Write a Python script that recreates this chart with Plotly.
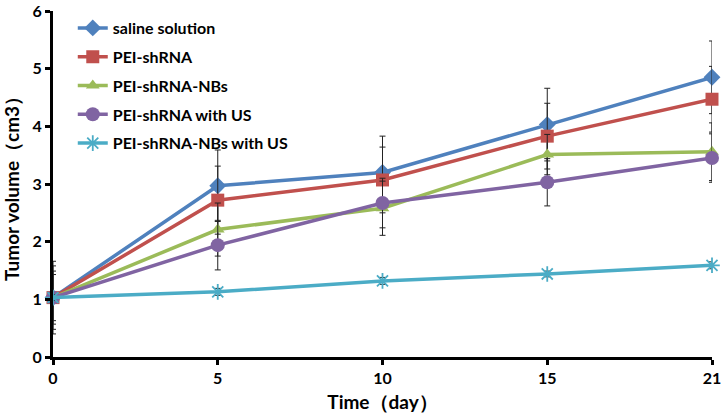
import plotly.graph_objects as go

days = ["0", "5", "10", "15", "21"]
series_names = ["saline solution", "PEI-shRNA", "PEI-shRNA-NBs", "PEI-shRNA with US", "PEI-shRNA-NBs with US"]
saline = [1.03, 2.97, 3.20, 4.03, 4.85]
saline_err = [0.63, 0.62, 0.63, 0.63, 0.63]
pei = [1.03, 2.72, 3.07, 3.83, 4.47]
pei_err = [0.55, 0.59, 0.57, 0.57, 0.57]
pei_nbs = [1.03, 2.21, 2.58, 3.51, 3.56]
pei_nbs_err = [0.46, 0.46, 0.47, 0.35, 0.50]
pei_us = [1.03, 1.94, 2.67, 3.03, 3.45]
pei_us_err = [0.40, 0.43, 0.43, 0.41, 0.42]
pei_nbs_us = [1.03, 1.13, 1.32, 1.44, 1.59]
pei_nbs_us_err = [0.05, 0.06, 0.06, 0.05, 0.06]

colors = ["#4F81BD", "#C0504D", "#9BBB59", "#8064A2", "#4BACC6"]
symbols = ["diamond", "square", "triangle-up", "circle", "asterisk-open"]
sizes = [13, 13, 12, 14, 13]
values = [saline, pei, pei_nbs, pei_us, pei_nbs_us]
errors = [saline_err, pei_err, pei_nbs_err, pei_us_err, pei_nbs_us_err]

xpos = list(range(len(days)))
FAM = "Lato, 'Open Sans', sans-serif"

fig = go.Figure()
for i in range(5):
    marker = dict(symbol=symbols[i], size=sizes[i], color=colors[i])
    if symbols[i] == "asterisk-open":
        marker["line"] = dict(color=colors[i], width=1.8)
    fig.add_trace(go.Scatter(
        x=xpos, y=values[i], name=series_names[i], mode="lines+markers",
        line=dict(color=colors[i], width=3.5),
        marker=marker,
        error_y=dict(type="data", array=errors[i], visible=True, color="#222222", thickness=1, width=3),
        cliponaxis=False,
        legendgroup="g%d" % i,
    ))

axis_font = dict(family=FAM, size=16, color="black", weight="bold")
title_font = dict(family=FAM, size=19, color="black", weight="bold")

fig.update_layout(
    width=723, height=413,
    margin=dict(l=53, r=11, t=11, b=56),
    plot_bgcolor="white", paper_bgcolor="white",
    font=dict(family=FAM, color="black"),
    showlegend=True,
    legend=dict(x=0.03, y=1.0, xanchor="left", yanchor="top",
                font=dict(family=FAM, size=16, color="black", weight="bold"),
                tracegroupgap=5, bgcolor="rgba(0,0,0,0)"),
    xaxis=dict(range=[0, 4], tickvals=xpos, ticktext=days, showline=True, linecolor="black",
               linewidth=3, ticks="outside", ticklen=5, tickwidth=3, tickcolor="black",
               showgrid=False, zeroline=False, tickfont=axis_font, automargin=False,
               title=dict(text="Time（day）", font=title_font, standoff=10)),
    yaxis=dict(range=[0, 6], dtick=1, showline=True, linecolor="black", linewidth=3,
               ticks="outside", ticklen=5, tickwidth=3, tickcolor="black",
               showgrid=False, zeroline=False, tickfont=axis_font, automargin=False,
               title=dict(text="Tumor volume（cm3）", font=title_font, standoff=12)),
)

fig.write_html("out.html", config={"displayModeBar": False},
               post_script="document.body.style.margin='0';")
